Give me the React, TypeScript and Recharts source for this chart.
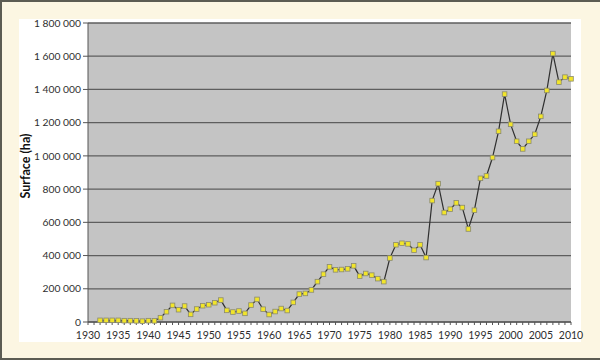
import { LineChart, Line, XAxis, YAxis, CartesianGrid, Label } from 'recharts'

// Surface (ha), one value a year
const YEARS = [
  1932, 1933, 1934, 1935, 1936, 1937, 1938, 1939, 1940, 1941,
  1942, 1943, 1944, 1945, 1946, 1947, 1948, 1949, 1950, 1951,
  1952, 1953, 1954, 1955, 1956, 1957, 1958, 1959, 1960, 1961,
  1962, 1963, 1964, 1965, 1966, 1967, 1968, 1969, 1970, 1971,
  1972, 1973, 1974, 1975, 1976, 1977, 1978, 1979, 1980, 1981,
  1982, 1983, 1984, 1985, 1986, 1987, 1988, 1989, 1990, 1991,
  1992, 1993, 1994, 1995, 1996, 1997, 1998, 1999, 2000, 2001,
  2002, 2003, 2004, 2005, 2006, 2007, 2008, 2009, 2010,
]

const SURFACE = [
  10000, 10000, 10000, 10000, 8000, 8000, 7000, 5000, 8000, 7000,
  26000, 62000, 100000, 74000, 96000, 46000, 78000, 98000, 104000, 116000,
  132000, 70000, 60000, 66000, 52000, 102000, 136000, 77000, 45000, 63000,
  81000, 69000, 118000, 168000, 172000, 193000, 243000, 288000, 332000, 314000,
  316000, 320000, 338000, 276000, 292000, 282000, 261000, 243000, 385000, 465000,
  474000, 470000, 432000, 465000, 388000, 731000, 833000, 659000, 679000, 717000,
  689000, 560000, 673000, 865000, 879000, 990000, 1148000, 1372000, 1190000, 1088000,
  1042000, 1088000, 1130000, 1238000, 1394000, 1616000, 1444000, 1474000, 1464000,
]

const X_TICKS = [1930, 1931, ...YEARS]
const X_LABELS = [1930, 1935, 1940, 1945, 1950, 1955, 1960, 1965, 1970, 1975, 1980, 1985, 1990, 1995, 2000, 2005, 2010]
const Y_TICKS = [0, 200000, 400000, 600000, 800000, 1000000, 1200000, 1400000, 1600000, 1800000]

const data = YEARS.map((year, i) => ({ year, surface: SURFACE[i] }))

const FONT = 'Lato, "Open Sans", sans-serif'

const fmt = (v: number) => String(v).replace(/\B(?=(\d{3})+(?!\d))/g, ' ')

function SquareDot(props: any) {
  const { cx, cy } = props
  if (cx == null || cy == null) return null
  return <rect x={cx - 2.3} y={cy - 2.3} width={4.6} height={4.6} fill="#f2e52a" stroke="#8a8a70" strokeWidth={0.8} />
}

export default function App() {
  return (
    <div
      style={{
        position: 'absolute',
        left: 0,
        top: 0,
        width: 600,
        height: 360,
        boxSizing: 'border-box',
        background: '#fcf6e2',
        borderLeft: '2px solid #5c5c52',
        borderTop: '2px solid #5c5c52',
        borderBottom: '2px solid #5c5c52',
        fontFamily: FONT,
      }}
    >
      <div style={{ position: 'absolute', left: 17, top: 17, width: 562, height: 323, background: '#ffffff' }} />
      <div style={{ position: 'absolute', left: -2, top: -2 }}>
        <LineChart width={600} height={360} data={data} margin={{ top: 23, right: 29, left: 0, bottom: 0 }}>
          <CartesianGrid vertical={false} fill="#c4c4c4" stroke="#5e5e5e" strokeWidth={1.3} horizontalValues={Y_TICKS} />
          <XAxis
            dataKey="year"
            type="number"
            domain={[1930, 2010]}
            ticks={X_TICKS}
            interval={0}
            height={38}
            tickSize={3}
            tickLine={{ stroke: '#555' }}
            axisLine={{ stroke: '#555' }}
            tickFormatter={(v: number) => (X_LABELS.includes(v) ? String(v) : '')}
            tick={{ fontSize: 10.5, fill: '#2e2e2e', fontFamily: FONT, dy: 5 }}
          />
          <YAxis
            type="number"
            domain={[0, 1800000]}
            ticks={Y_TICKS}
            interval={0}
            width={88}
            tickSize={5}
            tickLine={{ stroke: '#555' }}
            axisLine={{ stroke: '#555' }}
            tickFormatter={fmt}
            tick={{ fontSize: 10.3, fill: '#2e2e2e', fontFamily: FONT }}
          >
            <Label
              content={() => (
                <text
                  x={25}
                  y={166}
                  transform="rotate(-90 25 166)"
                  textAnchor="middle"
                  dominantBaseline="central"
                  fontSize={12.5}
                  fontWeight="bold"
                  fill="#111"
                  fontFamily={FONT}
                >
                  Surface (ha)
                </text>
              )}
            />
          </YAxis>
          <Line
            type="linear"
            dataKey="surface"
            stroke="#2f2f2f"
            strokeWidth={1.2}
            dot={<SquareDot />}
            activeDot={false}
            isAnimationActive={false}
          />
        </LineChart>
      </div>
    </div>
  )
}
